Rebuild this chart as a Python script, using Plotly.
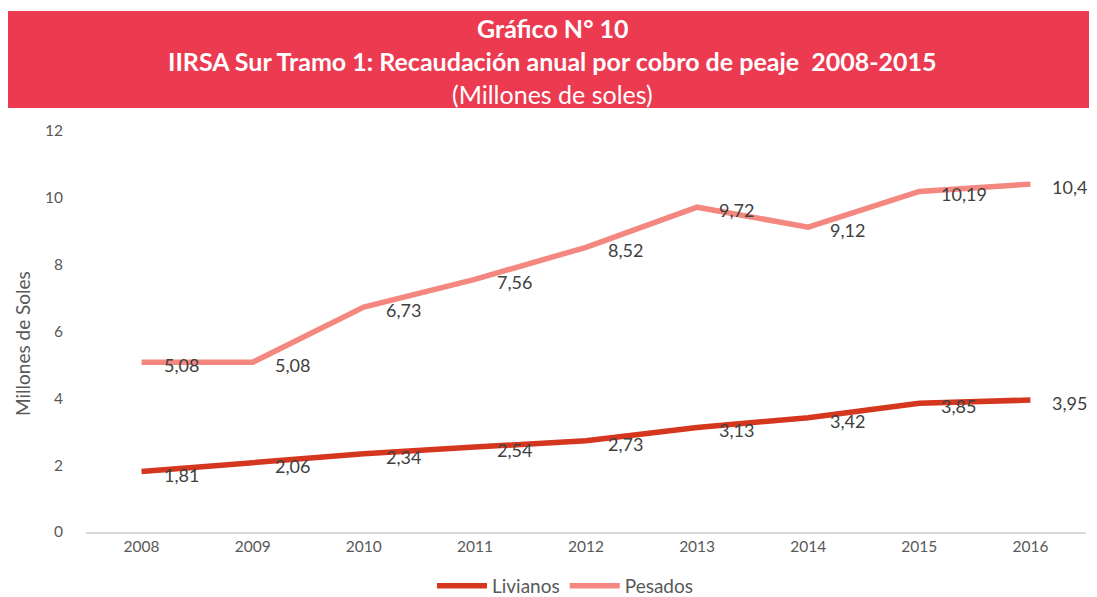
import plotly.graph_objects as go

years = ["2008", "2009", "2010", "2011", "2012", "2013", "2014", "2015", "2016"]
livianos = [1.81, 2.06, 2.34, 2.54, 2.73, 3.13, 3.42, 3.85, 3.95]
pesados = [5.08, 5.08, 6.73, 7.56, 8.52, 9.72, 9.12, 10.19, 10.41]

title_line1 = "Gráfico N° 10"
title_line2 = "IIRSA Sur Tramo 1: Recaudación anual por cobro de peaje  2008-2015"
title_line3 = "(Millones de soles)"
y_title = "Millones de Soles"

C_LIV = "#D5361E"
C_PES = "#F4877F"
FONT = "Lato, 'Open Sans', sans-serif"

W, H = 1097, 597
OFF = 8  # page body margin
L, R, T, B = 78, 19, 123, 73
PW, PH = W - L - R, H - T - B

def px(x):
    return (x - OFF - L) / PW

def py(y):
    return (H - B - (y - OFF)) / PH

fig = go.Figure()
fig.add_trace(go.Scatter(x=years, y=livianos, name="Livianos", mode="lines",
                         line=dict(color=C_LIV, width=5.5)))
fig.add_trace(go.Scatter(x=years, y=pesados, name="Pesados", mode="lines",
                         line=dict(color=C_PES, width=5.5)))

def fmt(v):
    return f"{v:.2f}".replace(".", ",")

anns = []
for series in (livianos, pesados):
    for i, v in enumerate(series):
        anns.append(dict(x=i, y=v, xref="x", yref="y", text=fmt(v), showarrow=False,
                         xanchor="left", yanchor="middle", xshift=20, yshift=-3,
                         font=dict(family=FONT, size=18, color="#404040")))

for txt, ypix, bold in ((title_line1, 28, True), (title_line2, 61, True), (title_line3, 94, False)):
    anns.append(dict(x=px((8 + W) / 2), y=py(ypix), xref="paper", yref="paper",
                     xanchor="center", yanchor="middle", showarrow=False,
                     text=f"<b>{txt}</b>" if bold else txt,
                     font=dict(family=FONT, size=25, color="white")))

anns.append(dict(x=px(22), y=py(344), xref="paper", yref="paper", text=y_title,
                 textangle=-90, showarrow=False, xanchor="center", yanchor="middle",
                 font=dict(family=FONT, size=19, color="#595959")))

fig.update_layout(
    width=W, height=H,
    margin=dict(l=L, r=R, t=T, b=B, autoexpand=False),
    paper_bgcolor="white", plot_bgcolor="white",
    font=dict(family=FONT, size=14, color="#595959"),
    showlegend=True,
    legend=dict(orientation="h", x=px(565), xanchor="center", y=py(586), yanchor="middle",
                font=dict(family=FONT, size=19, color="#595959"),
                itemwidth=50, tracegroupgap=0),
    xaxis=dict(type="category", range=[-0.5, 8.5], showgrid=False, showline=True,
               linecolor="#D9D9D9", linewidth=1.5, ticks="", automargin=False,
               tickfont=dict(family=FONT, size=15.5, color="#595959"), zeroline=False),
    yaxis=dict(range=[0, 12], dtick=2, showgrid=False, showline=False, zeroline=False,
               automargin=False,
               tickfont=dict(family=FONT, size=15.5, color="#595959"), ticklabelstandoff=22),
    annotations=anns,
    shapes=[dict(type="rect", xref="paper", yref="paper",
                 x0=px(8), x1=px(W + 20), y0=py(108), y1=py(11),
                 fillcolor="#EC3A51", line=dict(width=0), layer="below")],
)

fig.write_html("out.html")
